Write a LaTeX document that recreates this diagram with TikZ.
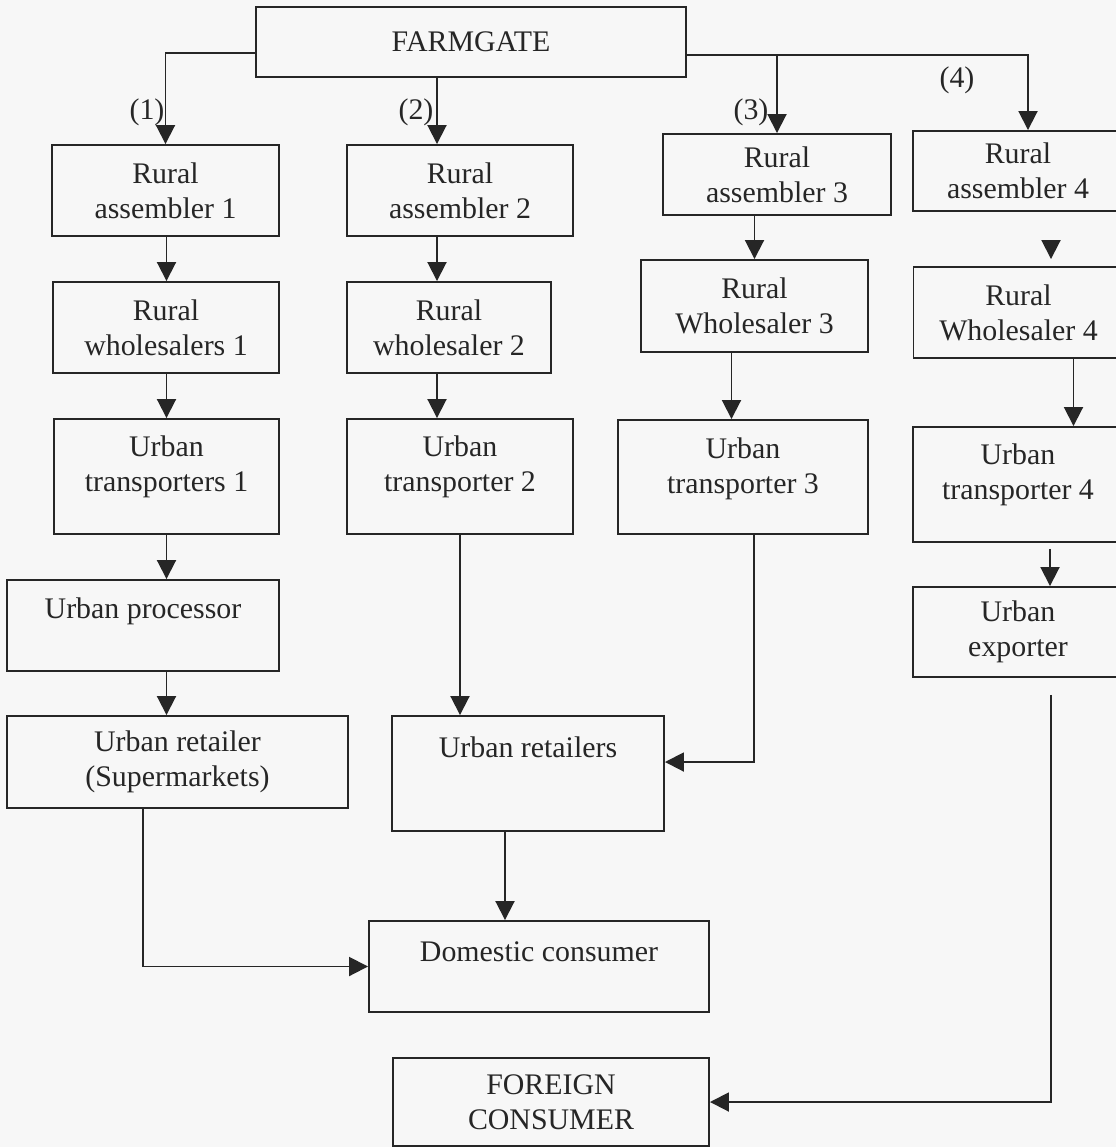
\documentclass[tikz,border=0pt]{standalone}
\usepackage{fontspec}
\setmainfont{Liberation Serif}
\usepackage{tikz}
\usetikzlibrary{arrows.meta, positioning}

\definecolor{ink}{HTML}{262626}
\definecolor{paper}{HTML}{F7F7F7}

\begin{document}
\begin{tikzpicture}[
    box/.style={rectangle, draw=ink, line width=1.1pt, text=ink,
                align=center, font=\fontsize{17}{20}\selectfont, inner sep=0pt},
    tag/.style={text=ink, font=\fontsize{17}{20}\selectfont, inner sep=0pt},
    arr/.style={-{Triangle[length=0.38cm, width=0.38cm]}, line width=1.1pt, draw=ink}
]
\fill[paper] (0,0) rectangle (22.32,-22.94);
\useasboundingbox (0,0) rectangle (22.32,-22.94);
\clip (0,0) rectangle (22.32,-22.94);

\node[box, minimum width=8.6cm, minimum height=1.4cm] (farm) at (9.42,-0.84) {FARMGATE};

% channel 1
\node[box, minimum width=4.54cm, minimum height=1.82cm] (asm1) at (3.31,-3.81) {Rural\\assembler 1};
\node[box, minimum width=4.52cm, minimum height=1.82cm] (wh1)  at (3.32,-6.55) {Rural\\wholesalers 1};
\node[box, minimum width=4.5cm,  minimum height=2.3cm, text depth=0.5cm] (tr1) at (3.33,-9.53) {Urban\\transporters 1};
\node[box, minimum width=5.44cm, minimum height=1.82cm, text depth=0.68cm] (proc) at (2.86,-12.51) {Urban processor};
\node[box, minimum width=6.82cm, minimum height=1.84cm] (rsup) at (3.55,-15.24) {Urban retailer\\(Supermarkets)};

% channel 2
\node[box, minimum width=4.52cm, minimum height=1.82cm] (asm2) at (9.2,-3.81)  {Rural\\assembler 2};
\node[box, minimum width=4.08cm, minimum height=1.82cm] (wh2)  at (8.98,-6.55) {Rural\\wholesaler 2};
\node[box, minimum width=4.52cm, minimum height=2.3cm, text depth=0.5cm] (tr2) at (9.2,-9.53) {Urban\\transporter 2};
\node[box, minimum width=5.44cm, minimum height=2.3cm, text depth=1.04cm] (uret) at (10.56,-15.47) {Urban retailers};
\node[box, minimum width=6.8cm,  minimum height=1.82cm, text depth=0.58cm] (dom) at (10.78,-19.33) {Domestic consumer};

% channel 3
\node[box, minimum width=4.56cm, minimum height=1.62cm] (asm3) at (15.54,-3.49) {Rural\\assembler 3};
\node[box, minimum width=4.54cm, minimum height=1.84cm] (wh3)  at (15.09,-6.12) {Rural\\Wholesaler 3};
\node[box, minimum width=5.0cm,  minimum height=2.28cm, text depth=0.45cm] (tr3) at (14.86,-9.54) {Urban\\transporter 3};

% channel 4
\node[box, minimum width=4.2cm, minimum height=1.6cm]  (asm4) at (20.36,-3.42) {Rural\\assembler 4};
\node[box, minimum width=4.2cm, minimum height=1.82cm] (wh4)  at (20.37,-6.25) {Rural\\Wholesaler 4};
\node[box, minimum width=4.2cm, minimum height=2.3cm, text depth=0.5cm] (tr4) at (20.36,-9.69) {Urban\\transporter 4};
\node[box, minimum width=4.2cm, minimum height=1.8cm]  (exp)  at (20.36,-12.64) {Urban\\exporter};
\node[box, minimum width=6.32cm, minimum height=1.76cm] (fcon) at (11.02,-22.04) {FOREIGN\\CONSUMER};

% channel numbers
\node[tag] (lab1) at (2.94,-2.24)  {(1)};
\node[tag] (lab2) at (8.32,-2.24)  {(2)};
\node[tag] (lab3) at (15.02,-2.24) {(3)};
\node[tag] (lab4) at (19.14,-1.6)  {(4)};

% from the farmgate
\draw[arr] ([yshift=-0.22cm]farm.west) -| (asm1.north);
\draw[arr] ([xshift=-0.46cm]asm2.north |- farm.south) -- ([xshift=-0.46cm]asm2.north);
\draw[arr] ([yshift=-0.26cm]farm.east) -| ([xshift=0.2cm]asm4.north);
\draw[arr] (asm3.north |- 0,-1.1) -- (asm3.north);

% channel 1
\draw[arr] (asm1.south -| tr1.south) -- (wh1.north -| tr1.south);
\draw[arr] (wh1.south -| tr1.south)  -- (tr1.north);
\draw[arr] (tr1.south)               -- (proc.north -| tr1.south);
\draw[arr] (proc.south -| tr1.south) -- (rsup.north -| tr1.south);
\draw[arr] ([xshift=-0.69cm]rsup.south) |- (dom.west);

% channel 2
\draw[arr] ([xshift=-0.24cm]wh2.north |- asm2.south) -- ([xshift=-0.24cm]wh2.north);
\draw[arr] ([xshift=-0.24cm]wh2.south) -- ([xshift=-0.24cm]wh2.south |- tr2.north);
\draw[arr] (tr2.south) -- (tr2.south |- uret.north);
\draw[arr] ([xshift=-0.46cm]uret.south) -- ([xshift=-0.46cm]uret.south |- dom.north);

% channel 3
\draw[arr] (asm3.south -| wh3.north) -- (wh3.north);
\draw[arr] ([xshift=-0.23cm]tr3.north |- wh3.south) -- ([xshift=-0.23cm]tr3.north);
\draw[arr] ([xshift=0.22cm]tr3.south) |- ([yshift=0.23cm]uret.east);

% channel 4
\draw[arr, shorten <=0.58cm, shorten >=0.14cm] ([xshift=0.66cm]asm4.south) -- ([xshift=0.66cm]asm4.south |- wh4.north);
\draw[arr] ([xshift=1.1cm]wh4.south) -- ([xshift=1.1cm]wh4.south |- tr4.north);
\draw[arr, shorten <=0.12cm] ([xshift=0.64cm]tr4.south) -- ([xshift=0.64cm]tr4.south |- exp.north);
\draw[arr, shorten <=0.34cm] ([xshift=0.66cm]exp.south) |- (fcon.east);
\end{tikzpicture}
\end{document}
